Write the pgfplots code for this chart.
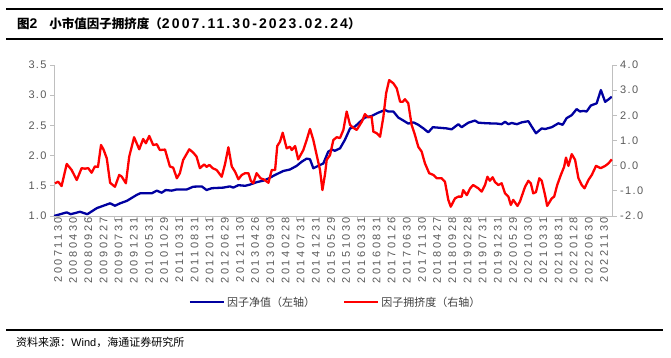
\documentclass[border=0pt]{standalone}
\usepackage{pgfplots}
\pgfplotsset{compat=1.18}
\usepackage{fontspec}
\setmainfont{Liberation Sans}
\newfontfamily\cjk{Noto Sans CJK SC}
\newfontfamily\tickfont[LetterSpace=12]{Liberation Sans}
\newfontfamily\xtickfont[LetterSpace=22]{Liberation Sans}
\newfontfamily\titlenum[LetterSpace=15]{Liberation Sans}
\definecolor{navy}{RGB}{0,0,160}
\definecolor{pred}{RGB}{255,0,0}
\definecolor{axisgray}{RGB}{191,191,191}
\definecolor{labelgray}{RGB}{89,89,89}
\begin{document}
\begin{tikzpicture}[x=1pt,y=1pt]
\useasboundingbox (0,0) rectangle (671,358);
% title rules and title
\draw[line width=1.1pt] (6,349) -- (663,349);
\draw[line width=1.1pt] (6,319) -- (663,319);
\node[anchor=west,inner sep=0pt] at (17,334) {\fontsize{12.5}{14}\selectfont{\cjk\bfseries 图}{\titlenum\bfseries\fontsize{14}{14}\selectfont 2}\hspace{12pt}{\cjk\bfseries 小市值因子拥挤度（}{\titlenum\bfseries\fontsize{14}{14}\selectfont 2007.11.30-2023.02.24}{\cjk\bfseries ）}};
% footer
\draw[line width=1.1pt] (6,28) -- (663,28);
\node[anchor=west,inner sep=0pt] at (16,16) {\fontsize{11}{13}\selectfont{\cjk 资料来源：}Wind{\cjk ，海通证券研究所}};

% x axis only
\begin{axis}[
  at={(54pt,142pt)}, anchor=south west,
  scale only axis, width=558.7pt, height=151pt,
  xmin=0, xmax=184.2, ymin=0, ymax=1,
  axis y line=none, axis x line*=bottom,
  axis line style={draw=axisgray, line width=0.9pt},
  tick align=outside,
  major tick length=0pt, minor tick length=4pt,
  minor tick style={draw=axisgray, line width=0.9pt},
  xtick={0,5,...,180},
  minor xtick={0,10,...,180},
  xticklabels={20071130,20080430,20080926,20090227,20090731,20091231,20100531,20101029,20110331,20110831,20120131,20120629,20121130,20130426,20130930,20140228,20140731,20141231,20150529,20151030,20160331,20160831,20170126,20170630,20171130,20180427,20180928,20190228,20190731,20191231,20200529,20201030,20210331,20210831,20220128,20220630,20221130},
  xticklabel style={rotate=90, anchor=east, font=\xtickfont\fontsize{11}{11}\selectfont, text=labelgray, inner sep=1pt, yshift=-4pt},
]
\end{axis}

% left axis: factor NAV
\begin{axis}[
  at={(54pt,142pt)}, anchor=south west,
  scale only axis, width=558.7pt, height=151pt,
  xmin=0, xmax=184.2, ymin=1, ymax=3.5,
  axis x line=none, axis y line*=left,
  axis line style={draw=axisgray, line width=0.9pt},
  tick align=outside, major tick length=4pt,
  tick style={draw=axisgray, line width=0.9pt},
  ytick={1,1.5,2,2.5,3,3.5},
  yticklabels={1.0,1.5,2.0,2.5,3.0,3.5},
  yticklabel style={font=\tickfont\fontsize{11}{11}\selectfont, text=labelgray},
]
\addplot[navy, line width=2.3pt, line join=round] coordinates {
(0.0,1.00) (4.2,1.06) (5.5,1.03) (8.6,1.07) (11.0,1.03) (14.1,1.13) (18.5,1.21) (20.1,1.17) (21.8,1.21) (24.0,1.25) (27.3,1.35) (28.4,1.375) (32.2,1.375) (33.9,1.42) (35.5,1.385) (36.8,1.43) (38.8,1.42) (40.5,1.44) (43.8,1.44) (45.9,1.485) (48.7,1.49) (50.3,1.43) (52.0,1.46) (55.8,1.47) (58.0,1.49) (59.1,1.47) (60.8,1.51) (63.0,1.50) (64.6,1.52) (66.8,1.56) (69.0,1.585) (70.7,1.62) (72.9,1.68) (75.6,1.745) (77.8,1.77) (80.0,1.83) (81.7,1.90) (83.3,1.95) (84.4,1.94) (85.5,1.79) (87.1,1.83) (88.8,1.87) (90.4,2.065) (91.6,2.10) (92.6,2.08) (94.3,2.12) (95.9,2.26) (97.6,2.45) (99.2,2.48) (100.9,2.56) (102.5,2.63) (104.7,2.655) (106.9,2.71) (109.1,2.755) (110.2,2.73) (111.9,2.73) (113.5,2.63) (115.2,2.58) (116.8,2.53) (118.5,2.55) (120.1,2.51) (121.8,2.45) (123.4,2.385) (124.9,2.47) (127.3,2.46) (129.5,2.45) (131.1,2.435) (133.3,2.52) (134.4,2.47) (136.6,2.545) (138.8,2.58) (139.9,2.545) (142.7,2.535) (146.0,2.53) (147.6,2.52) (148.7,2.56) (149.8,2.52) (150.9,2.54) (152.6,2.52) (154.2,2.55) (156.4,2.57) (157.5,2.48) (158.9,2.37) (160.8,2.45) (161.9,2.44) (164.1,2.47) (166.3,2.535) (167.7,2.51) (169.0,2.62) (170.7,2.67) (172.3,2.77) (173.4,2.73) (174.5,2.74) (175.6,2.73) (177.0,2.83) (178.9,2.865) (180.3,3.085) (181.7,2.89) (182.8,2.93) (183.9,2.975)
};
\end{axis}

% right axis: crowding
\begin{axis}[
  at={(54pt,142pt)}, anchor=south west,
  scale only axis, width=558.7pt, height=151pt,
  xmin=0, xmax=184.2, ymin=-2, ymax=4,
  axis x line=none, axis y line*=right,
  axis line style={draw=axisgray, line width=0.9pt},
  tick align=outside, major tick length=4pt,
  tick style={draw=axisgray, line width=0.9pt},
  ytick={-2,-1,0,1,2,3,4},
  yticklabels={-2.0,-1.0,0.0,1.0,2.0,3.0,4.0},
  yticklabel style={font=\tickfont\fontsize{11}{11}\selectfont, text=labelgray},
  legend style={at={(0.504,-0.57)}, anchor=center, draw=none, fill=none,
    font=\cjk\fontsize{11}{11}\selectfont, text={rgb,255:red,64;green,64;blue,64},
    /tikz/every even column/.append style={column sep=26pt}},
  legend columns=2,
  legend image code/.code={\draw[#1] (0pt,0pt) -- (34pt,0pt);},
]
\addlegendimage{navy, line width=2.3pt}
\addlegendentry{因子净值（左轴）}
\addplot[pred, line width=2.3pt, line join=round] coordinates {
(0.3,-0.70) (1.4,-0.64) (2.5,-0.81) (4.2,0.07) (5.8,-0.17) (7.5,-0.57) (9.1,-0.10) (10.2,-0.12) (11.3,-0.10) (12.4,-0.28) (13.5,-0.03) (14.5,-0.05) (15.5,0.82) (16.3,0.65) (17.4,0.29) (18.5,-0.68) (20.1,-0.84) (21.5,-0.37) (22.3,-0.43) (23.7,-0.70) (24.8,0.36) (26.4,1.13) (28.1,0.65) (29.4,1.06) (30.3,0.89) (31.4,1.18) (32.7,0.82) (33.9,0.85) (34.9,0.62) (36.6,0.64) (38.2,-0.03) (39.3,-0.08) (40.5,-0.50) (41.5,-0.30) (42.6,0.23) (44.6,0.65) (45.9,0.52) (47.0,0.36) (48.1,-0.10) (49.5,0.05) (50.3,-0.05) (51.2,0.03) (52.3,-0.10) (53.6,-0.17) (55.3,-0.44) (56.4,0.07) (57.5,0.73) (58.6,-0.03) (59.7,-0.24) (60.8,-0.54) (61.9,-0.37) (63.0,-0.30) (64.1,-0.30) (64.9,-0.60) (65.7,-0.70) (66.8,-0.30) (68.1,-0.50) (69.2,-0.55) (70.7,-0.68) (71.8,-0.17) (72.9,-0.17) (73.6,0.78) (74.5,0.95) (75.4,1.31) (76.7,0.69) (77.8,0.75) (78.4,0.62) (79.5,0.78) (80.5,0.25) (82.2,0.62) (83.3,1.02) (84.4,1.46) (85.5,1.02) (86.6,0.42) (87.7,-0.17) (88.5,-0.97) (89.4,-0.30) (89.9,0.23) (91.0,0.42) (92.1,1.02) (93.2,1.13) (94.3,1.10) (95.4,1.42) (96.5,2.15) (97.6,1.62) (98.7,1.50) (99.8,1.42) (101.5,1.75) (102.5,2.05) (103.6,1.92) (104.7,1.95) (105.3,1.35) (106.4,1.29) (107.5,1.15) (108.6,1.95) (109.5,2.88) (110.5,3.40) (111.9,3.27) (113.0,3.07) (114.1,2.54) (115.0,2.54) (115.7,2.64) (116.8,2.48) (117.9,1.62) (119.0,1.22) (120.1,0.75) (121.2,0.56) (122.3,0.09) (123.7,-0.30) (125.1,-0.37) (126.2,-0.50) (127.8,-0.50) (128.9,-0.64) (130.0,-1.36) (130.8,-1.63) (132.2,-1.30) (133.3,-1.23) (134.4,-1.23) (134.9,-0.97) (136.1,-1.17) (137.2,-0.90) (138.2,-0.77) (139.9,-0.90) (141.0,-1.03) (142.1,-0.77) (142.9,-0.44) (143.7,-0.60) (144.6,-0.46) (145.4,-0.65) (146.5,-0.77) (147.6,-0.70) (148.7,-1.10) (149.8,-1.23) (150.6,-1.56) (151.4,-1.36) (152.8,-1.60) (153.6,-1.43) (155.3,-0.84) (156.4,-0.60) (157.2,-0.70) (158.0,-1.10) (158.9,-1.05) (160.0,-0.50) (160.8,-0.60) (161.9,-1.17) (162.6,-1.60) (164.1,-1.30) (164.9,-1.23) (165.9,-0.77) (167.1,-0.37) (168.2,-0.04) (168.8,0.32) (169.6,-0.01) (170.7,0.46) (171.8,0.23) (172.9,-0.50) (174.0,-0.77) (174.9,-0.90) (176.2,-0.57) (177.3,-0.37) (178.7,-0.01) (180.2,-0.10) (181.7,-0.01) (182.8,0.09) (183.9,0.25)
};
\addlegendentry{因子拥挤度（右轴）}
\end{axis}
\end{tikzpicture}
\end{document}
